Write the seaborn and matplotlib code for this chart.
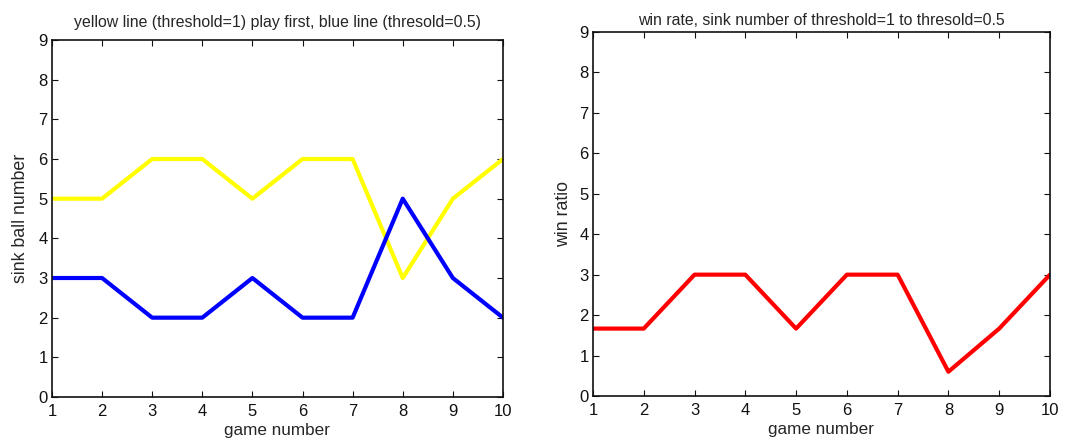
import matplotlib
matplotlib.use("Agg")
import matplotlib.pyplot as plt
import seaborn as sns
import pandas as pd

games = [1, 2, 3, 4, 5, 6, 7, 8, 9, 10]
sink_threshold_1 = [5, 5, 6, 6, 5, 6, 6, 3, 5, 6]
sink_threshold_05 = [3, 3, 2, 2, 3, 2, 2, 5, 3, 2]
win_ratio = [5 / 3, 5 / 3, 3, 3, 5 / 3, 3, 3, 3 / 5, 5 / 3, 3]

sns.set_style("ticks")
plt.rcParams["font.family"] = ["Liberation Sans", "DejaVu Sans"]

df = pd.DataFrame({
    "game": games,
    "t1": sink_threshold_1,
    "t05": sink_threshold_05,
    "ratio": win_ratio,
})

fig = plt.figure(figsize=(10.69, 4.4), dpi=100)
ax1 = fig.add_axes([0.0486, 0.0977, 0.4219, 0.8114])
ax2 = fig.add_axes([0.5547, 0.1, 0.4275, 0.8273])

lw = 3.0
sns.lineplot(data=df, x="game", y="t1", ax=ax1, color=(1, 1, 0), linewidth=lw)
sns.lineplot(data=df, x="game", y="t05", ax=ax1, color=(0, 0, 1), linewidth=lw)
sns.lineplot(data=df, x="game", y="ratio", ax=ax2, color=(1, 0, 0), linewidth=lw)

titles = [
    "yellow line (threshold=1) play first, blue line (thresold=0.5)",
    "win rate, sink number of threshold=1 to thresold=0.5",
]
title_pads = [9, 5]
ylabels = ["sink ball number", "win ratio"]
ylabel_pads = [7, 5]

for ax, title, tpad, ylab, ypad in zip([ax1, ax2], titles, title_pads, ylabels, ylabel_pads):
    ax.set_xlim(1, 10)
    ax.set_ylim(0, 9)
    ax.set_xticks(games)
    ax.set_yticks(range(0, 10))
    ax.tick_params(axis="both", direction="in", top=True, right=True,
                   length=4, width=0.8, labelsize=12, colors="#111111")
    ax.tick_params(axis="x", pad=5)
    ax.tick_params(axis="y", pad=3)
    for s in ax.spines.values():
        s.set_linewidth(1.2)
        s.set_color("#111111")
        s.set_visible(True)
    ax.set_title(title, fontsize=11.4, pad=tpad)
    ax.set_xlabel("game number", fontsize=12.3, labelpad=3)
    ax.set_ylabel(ylab, fontsize=12.8, labelpad=ypad)

fig.savefig("out.png", dpi=100)
